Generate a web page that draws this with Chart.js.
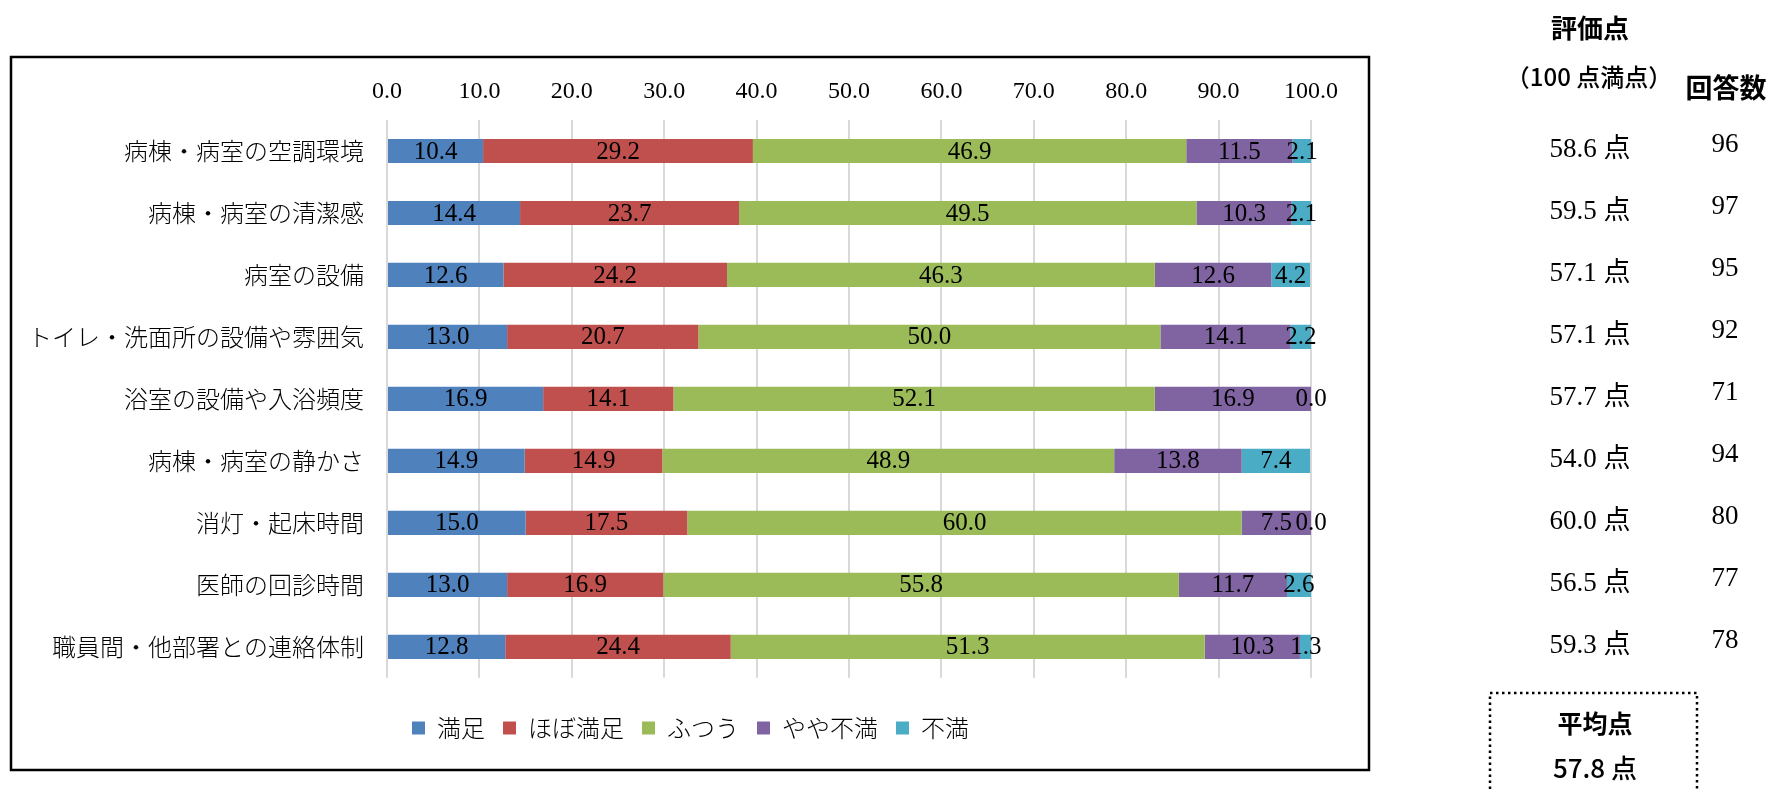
<!DOCTYPE html>
<html>
<head>
<meta charset="utf-8">
<script src="https://cdn.jsdelivr.net/npm/chart.js@4.4.1/dist/chart.umd.min.js"></script>
<style>
  body { margin: 0; background: #fff; }
  canvas { display: block; }
</style>
</head>
<body>
<canvas id="chart" width="1771" height="792"></canvas>
<script>
// --- data ---
const items = [
  "病棟・病室の空調環境",
  "病棟・病室の清潔感",
  "病室の設備",
  "トイレ・洗面所の設備や雰囲気",
  "浴室の設備や入浴頻度",
  "病棟・病室の静かさ",
  "消灯・起床時間",
  "医師の回診時間",
  "職員間・他部署との連絡体制"
];
const seriesNames = ["満足", "ほぼ満足", "ふつう", "やや不満", "不満"];
const manzoku     = [10.4, 14.4, 12.6, 13.0, 16.9, 14.9, 15.0, 13.0, 12.8];
const hobo        = [29.2, 23.7, 24.2, 20.7, 14.1, 14.9, 17.5, 16.9, 24.4];
const futsuu      = [46.9, 49.5, 46.3, 50.0, 52.1, 48.9, 60.0, 55.8, 51.3];
const yaya        = [11.5, 10.3, 12.6, 14.1, 16.9, 13.8, 7.5, 11.7, 10.3];
const fuman       = [2.1, 2.1, 4.2, 2.2, 0.0, 7.4, 0.0, 2.6, 1.3];
const scores      = [58.6, 59.5, 57.1, 57.1, 57.7, 54.0, 60.0, 56.5, 59.3];
const answers     = [96, 97, 95, 92, 71, 94, 80, 77, 78];
const average     = 57.8;
const xTicks      = [0, 10, 20, 30, 40, 50, 60, 70, 80, 90, 100];

const colors = ["#4F81BD", "#C0504D", "#9BBB59", "#8064A2", "#4BACC6"];
const serif = "'Liberation Serif', 'Noto Sans CJK JP', serif";
const gothic = "'Noto Sans CJK JP', sans-serif";

// --- value labels inside the bars ---
const valueLabels = {
  id: "valueLabels",
  afterDatasetsDraw(chart) {
    const ctx = chart.ctx;
    ctx.save();
    ctx.font = "25px " + serif;
    ctx.fillStyle = "#000";
    ctx.textAlign = "center";
    ctx.textBaseline = "middle";
    chart.data.datasets.forEach((ds, i) => {
      chart.getDatasetMeta(i).data.forEach((bar, j) => {
        ctx.fillText(ds.data[j].toFixed(1), (bar.x + bar.base) / 2, bar.y + 1);
      });
    });
    ctx.restore();
  }
};

// --- frame + score column on the right ---
const sideTable = {
  id: "sideTable",
  beforeDraw(chart) {
    const ctx = chart.ctx;
    ctx.save();
    ctx.strokeStyle = "#000";
    ctx.lineWidth = 2.5;
    ctx.strokeRect(11, 57, 1358, 713);
    ctx.restore();
  },
  afterDraw(chart) {
    const ctx = chart.ctx;
    const y = chart.scales.y;
    ctx.save();
    ctx.fillStyle = "#000";
    ctx.textAlign = "center";
    ctx.textBaseline = "middle";

    ctx.font = "bold 26px " + gothic;
    ctx.fillText("評価点", 1590, 28);
    ctx.font = "500 24px " + gothic;
    ctx.fillText("（100 点満点）", 1589, 77);
    ctx.font = "bold 27px " + gothic;
    ctx.fillText("回答数", 1726, 88);

    ctx.font = "27px " + serif;
    scores.forEach((s, i) => {
      const py = y.getPixelForValue(i);
      ctx.fillText(s.toFixed(1) + " 点", 1590, py - 1);
      ctx.fillText(String(answers[i]), 1725, py - 6);
    });

    // average box
    ctx.setLineDash([2.5, 3.5]);
    ctx.lineWidth = 2.5;
    ctx.strokeRect(1490, 693, 207, 120);
    ctx.setLineDash([]);
    ctx.font = "bold 25px " + gothic;
    ctx.fillText("平均点", 1595, 723);
    ctx.font = "500 26px " + gothic;
    ctx.fillText(average.toFixed(1) + " 点", 1595, 768);
    ctx.restore();
  }
};

const values = [manzoku, hobo, futsuu, yaya, fuman];

new Chart(document.getElementById("chart"), {
  type: "bar",
  data: {
    labels: items,
    datasets: seriesNames.map((name, i) => ({
      label: name,
      data: values[i],
      backgroundColor: colors[i],
      borderWidth: 0,
      barPercentage: 0.39,
      categoryPercentage: 1.0
    }))
  },
  options: {
    indexAxis: "y",
    responsive: false,
    animation: false,
    layout: { padding: { left: 11, top: 56, right: 401, bottom: 42 } },
    scales: {
      x: {
        position: "top",
        stacked: true,
        min: 0,
        max: 100,
        afterBuildTicks: s => { s.ticks = xTicks.map(v => ({ value: v })); },
        afterFit: s => { s.height = 64; },
        ticks: {
          callback: v => v.toFixed(1),
          font: { size: 24, family: serif },
          color: "#000",
          padding: 14,
          maxRotation: 0
        },
        grid: { color: "#D9D9D9", lineWidth: 2, drawTicks: false },
        border: { display: false }
      },
      y: {
        stacked: true,
        afterFit: s => { s.width = 376; },
        ticks: {
          font: { size: 24, family: gothic, weight: 300 },
          color: "#000",
          padding: 15
        },
        grid: { display: false },
        border: { display: false }
      },
      yRight: {
        type: "category",
        position: "right",
        afterFit: s => { s.width = 59; },
        ticks: { display: false },
        grid: { display: false },
        border: { display: false }
      }
    },
    plugins: {
      legend: {
        position: "bottom",
        title: { display: true, text: "", font: { size: 1 }, padding: { top: 19, bottom: 0 } },
        labels: {
          boxWidth: 13,
          boxHeight: 13,
          padding: 18,
          color: "#000",
          font: { size: 24, family: gothic, weight: 300 }
        }
      },
      tooltip: { enabled: false }
    }
  },
  plugins: [valueLabels, sideTable]
});
</script>
</body>
</html>
